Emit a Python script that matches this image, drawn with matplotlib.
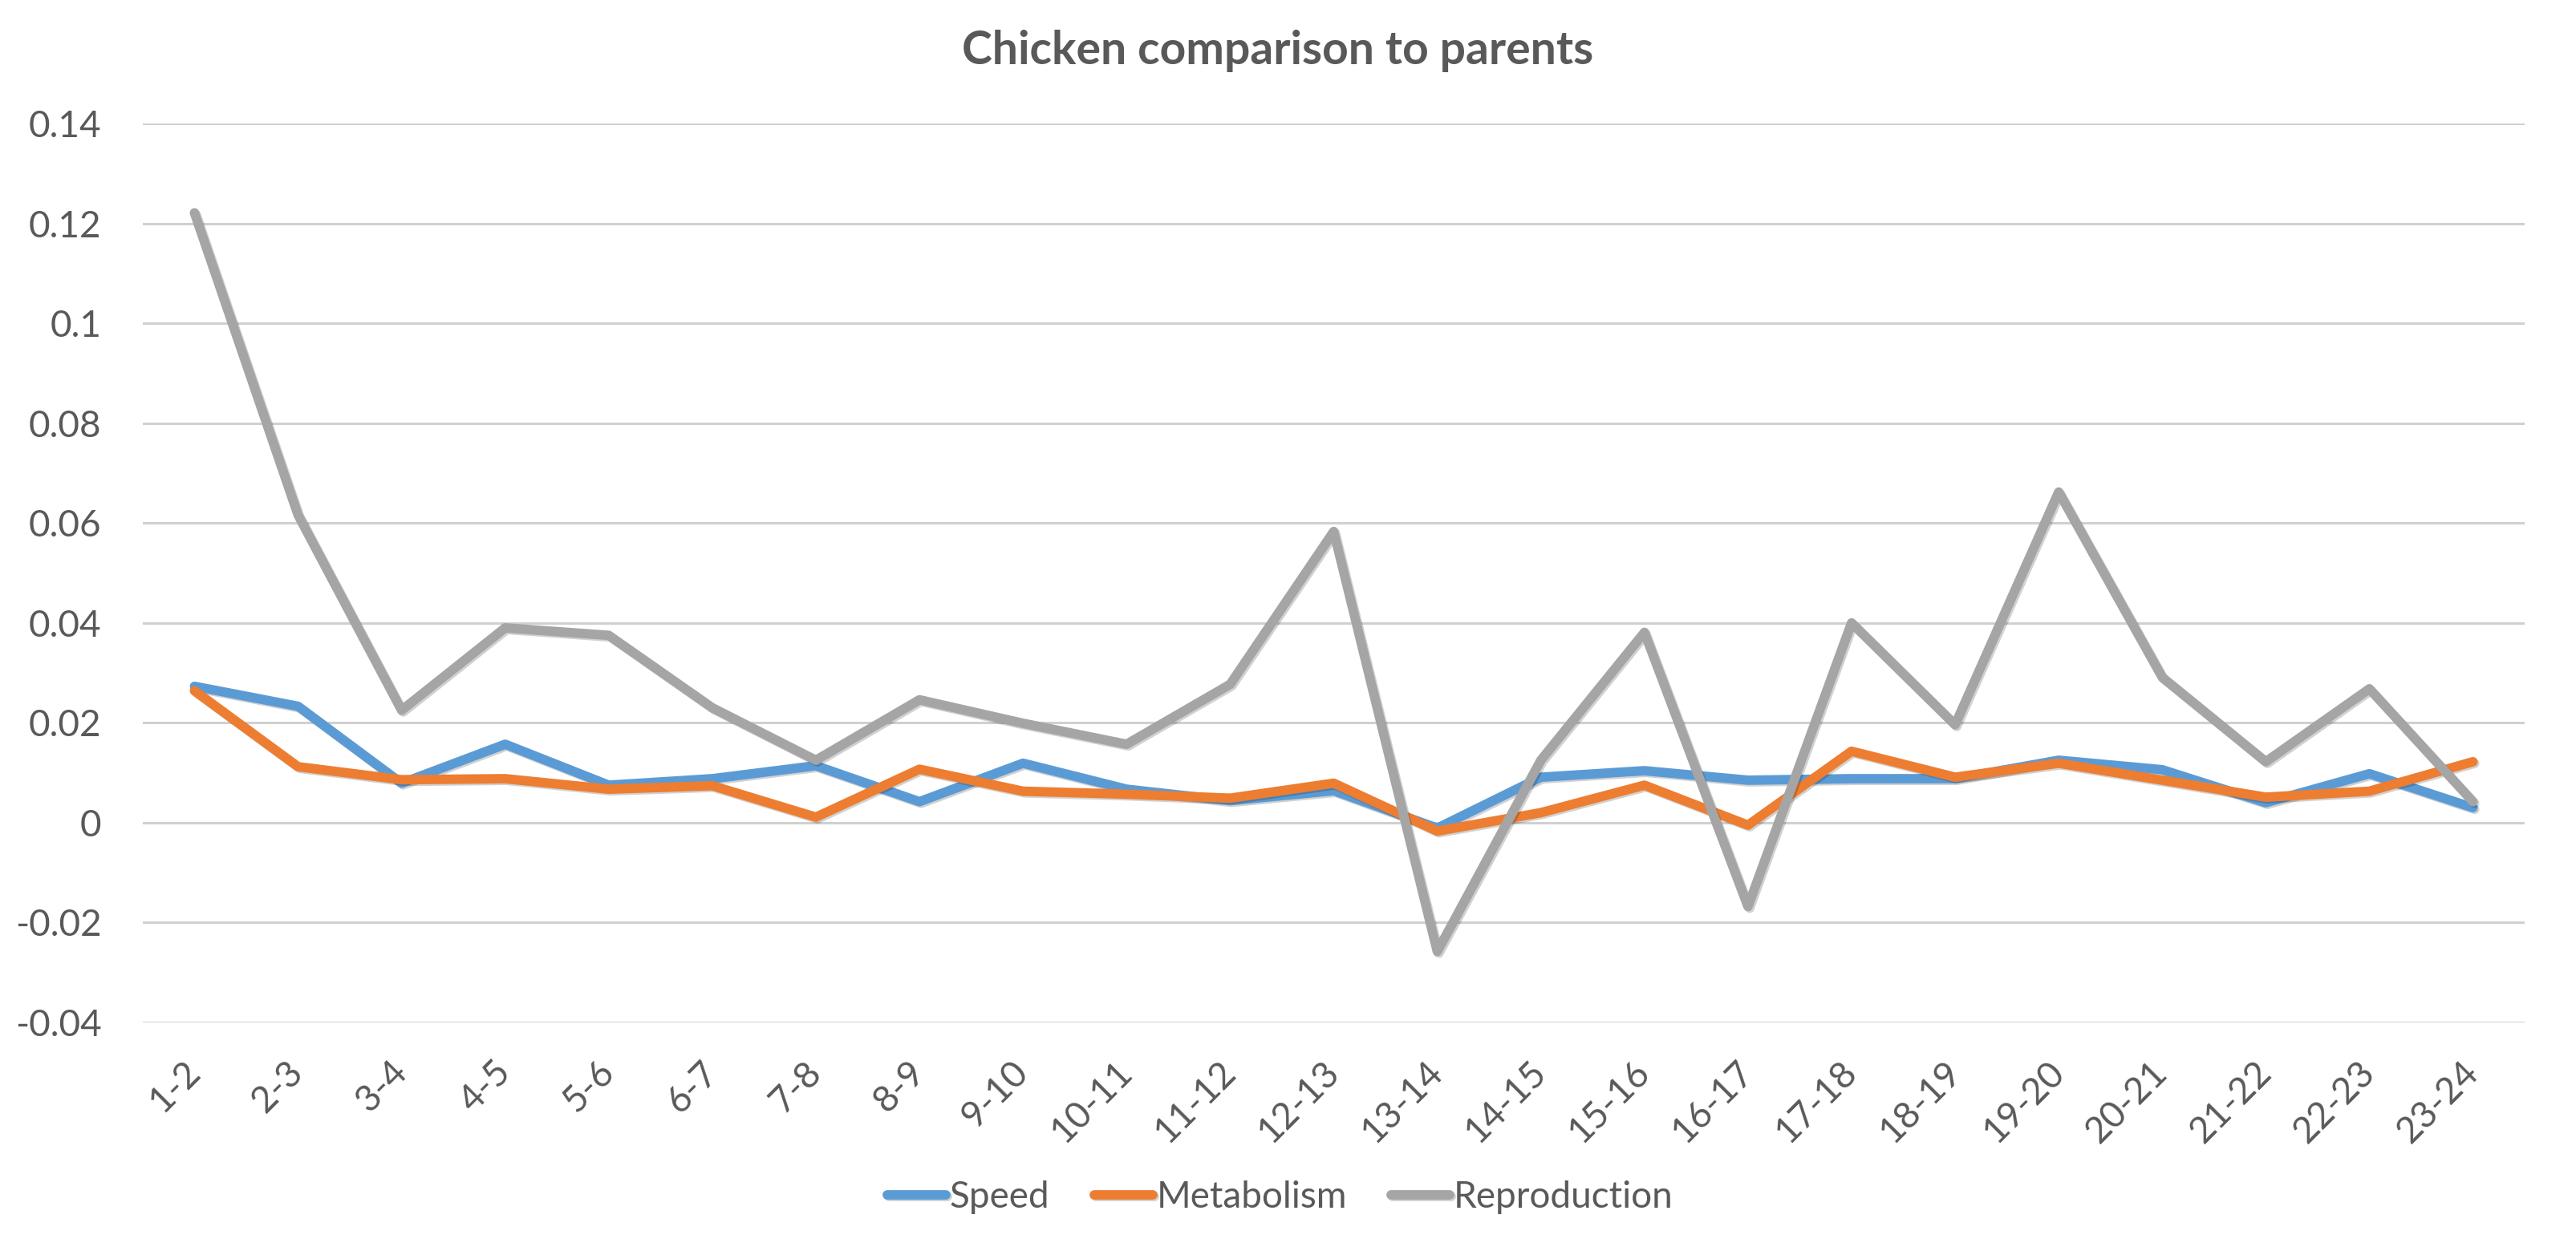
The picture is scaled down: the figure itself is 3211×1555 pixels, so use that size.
import matplotlib
matplotlib.use("Agg")
import matplotlib.pyplot as plt
import matplotlib.patheffects as pe
import numpy as np

categories = ["1-2", "2-3", "3-4", "4-5", "5-6", "6-7", "7-8", "8-9", "9-10", "10-11",
              "11-12", "12-13", "13-14", "14-15", "15-16", "16-17", "17-18", "18-19",
              "19-20", "20-21", "21-22", "22-23", "23-24"]
speed = [0.0273, 0.0233, 0.0079, 0.0157, 0.0075, 0.0088, 0.0114, 0.0042, 0.0119, 0.0067,
         0.0044, 0.0064, -0.0011, 0.0091, 0.0104, 0.0085, 0.0088, 0.0088, 0.0125, 0.0106,
         0.0040, 0.0098, 0.0030]
metabolism = [0.0264, 0.0112, 0.0086, 0.0088, 0.0067, 0.0074, 0.0011, 0.0107, 0.0063, 0.0057,
              0.0049, 0.0079, -0.0017, 0.0020, 0.0075, -0.0005, 0.0143, 0.0091, 0.0119, 0.0085,
              0.0051, 0.0063, 0.0122]
reproduction = [0.1221, 0.0616, 0.0225, 0.0390, 0.0375, 0.0230, 0.0125, 0.0246, 0.0199, 0.0157,
                0.0277, 0.0583, -0.0258, 0.0125, 0.0381, -0.0168, 0.0400, 0.0196, 0.0662, 0.0291,
                0.0122, 0.0268, 0.0042]
series_names = ["Speed", "Metabolism", "Reproduction"]
colors = ["#5B9BD5", "#ED7D31", "#A5A5A5"]
yticks = [-0.04, -0.02, 0, 0.02, 0.04, 0.06, 0.08, 0.1, 0.12, 0.14]
ytick_labels = ["-0.04", "-0.02", "0", "0.02", "0.04", "0.06", "0.08", "0.1", "0.12", "0.14"]
title = "Chicken comparison to parents"

plt.rcParams['font.family'] = ['Lato', 'DejaVu Sans']
text_color = "#595959"

fig = plt.figure(figsize=(32.11, 15.55), dpi=100)
ax = fig.add_axes([0.0554, 0.1801, 0.9247, 0.7209])

x = np.arange(len(categories))
shadow = [pe.SimpleLineShadow(offset=(1.5, -1.5), shadow_color='black', alpha=0.18),
          pe.Normal()]
for vals, name, c in zip([speed, metabolism, reproduction], series_names, colors):
    ax.plot(x, vals, color=c, lw=8.5, label=name, solid_capstyle='round',
            solid_joinstyle='round', zorder=3, path_effects=shadow)

ax.set_xlim(-0.5, len(categories) - 0.5)
ax.set_ylim(-0.04, 0.14)
ax.set_yticks(yticks)
ax.set_yticklabels(ytick_labels)
ax.set_xticks(x)
ax.set_xticklabels(categories, rotation=45, ha='right', va='center', rotation_mode='anchor')
ax.tick_params(axis='both', length=0, labelsize=33, labelcolor=text_color)
ax.tick_params(axis='y', pad=37)
ax.tick_params(axis='x', pad=40)
ax.grid(axis='y', color='#D0D0D0', lw=2.2, zorder=0)
for s in ax.spines.values():
    s.set_visible(False)

fig.text(0.496, 1 - 63 / 1555, title, ha='center', va='center', fontsize=41,
         fontweight='bold', color=text_color)

leg = fig.legend(loc='center', bbox_to_anchor=(0.497, 1 - 1493 / 1555), ncol=3,
                 frameon=False, fontsize=33, handlelength=1.6, handletextpad=0.1,
                 columnspacing=1.2, labelcolor=text_color)
for h in leg.get_lines():
    h.set_linewidth(8.5)
    h.set_solid_capstyle('round')

fig.savefig("out.png", dpi=100, facecolor='white')
